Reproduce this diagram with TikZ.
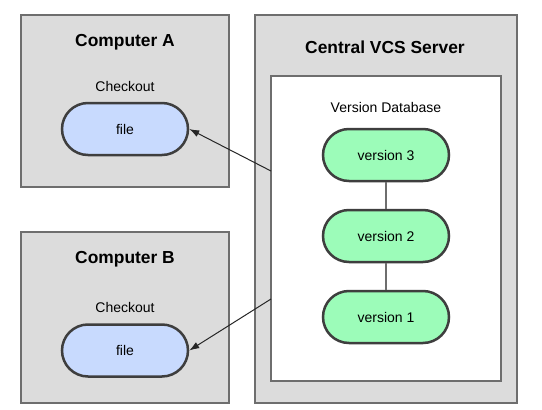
\documentclass[tikz,border=0pt]{standalone}
\usepackage{fontspec}
\setmainfont{Liberation Sans}
\usetikzlibrary{arrows.meta}
\definecolor{boxgray}{HTML}{DCDCDC}
\definecolor{boxedge}{HTML}{6E6E6E}
\definecolor{pilledge}{HTML}{3E3E3E}
\definecolor{fileblue}{HTML}{C8DAFE}
\definecolor{vergreen}{HTML}{9CFCB9}
\tikzset{
  outerbox/.style={draw=boxedge, fill=boxgray, line width=1.3pt, minimum width=#1, inner sep=0pt},
  innerbox/.style={draw=boxedge, fill=white, line width=1.3pt, inner sep=0pt},
  pill/.style={draw=pilledge, line width=2.5pt, rounded corners=26pt, minimum width=126pt, minimum height=52pt, inner sep=0pt, font=\fontsize{14}{16}\selectfont},
  filepill/.style={pill, fill=fileblue},
  verpill/.style={pill, fill=vergreen},
  title/.style={font=\fontsize{17.4}{20}\selectfont\bfseries},
  label/.style={font=\fontsize{14}{16}\selectfont},
  link/.style={draw=boxedge, line width=1.3pt},
  fetch/.style={draw=black!85, line width=1pt, -{Latex[length=10pt,width=7pt]}}
}
\begin{document}
\begin{tikzpicture}[x=1pt,y=-1pt]
\useasboundingbox (0,0) rectangle (542,410);
% boxes
\node[outerbox=208pt, minimum height=172pt] (compA) at (125,101) {};
\node[outerbox=208pt, minimum height=171pt] (compB) at (125,317.5) {};
\node[outerbox=262pt, minimum height=388pt] (server) at (386,209) {};
\node[innerbox, minimum width=230pt, minimum height=305pt] (db) at (386,228.5) {};
% titles and labels
\node[title] (tA) at (125,42) {Computer A};
\node[title] (tB) at (125,259) {Computer B};
\node[title] (tS) at (385,47) {Central VCS Server};
\node[label] (cA) at (125,86) {Checkout};
\node[label] (cB) at (125,307) {Checkout};
\node[label] (lDB) at (386,107) {Version Database};
% pills
\node[filepill] (fA) at (125,129) {file};
\node[filepill] (fB) at (125,350.5) {file};
\node[verpill] (v3) at (386,155) {version 3};
\node[verpill] (v2) at (386,236) {version 2};
\node[verpill] (v1) at (386,317) {version 1};
% links
\draw[link] (v3) -- (v2);
\draw[link] (v2) -- (v1);
% arrows
\coordinate (sA) at (271,171);
\coordinate (sB) at (271,299);
\draw[fetch] (sA) -- (fA.east);
\draw[fetch] (sB) -- (fB.east);
\end{tikzpicture}
\end{document}
